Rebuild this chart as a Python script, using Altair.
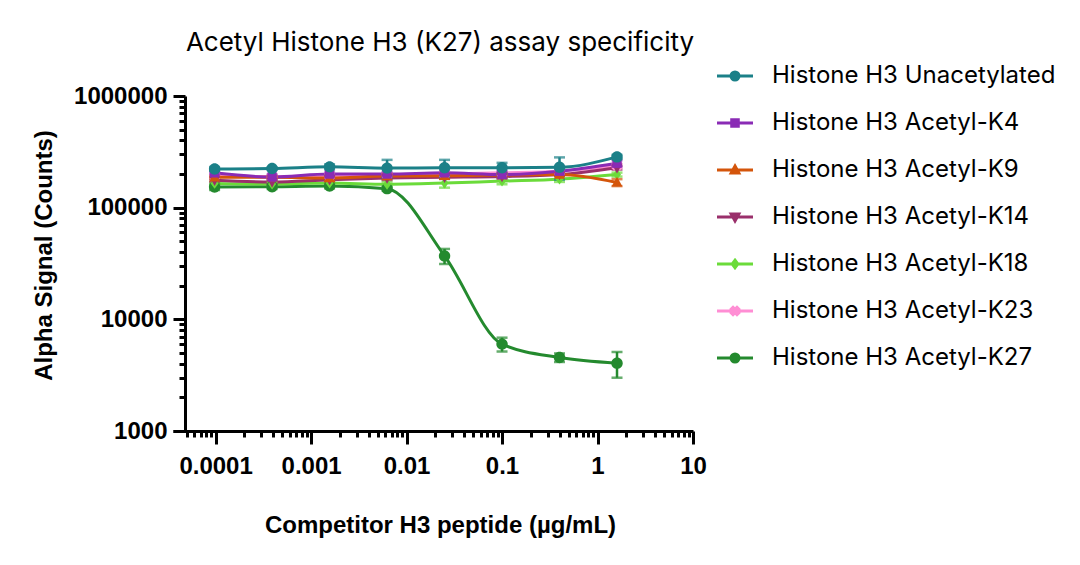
import altair as alt
import pandas as pd

# ---------------- data ----------------
conc = [9.765625e-05, 3.90625e-04, 1.5625e-03, 6.25e-03, 0.025, 0.1, 0.4, 1.6]

series_names = [
    "Histone H3 Unacetylated",
    "Histone H3 Acetyl-K4",
    "Histone H3 Acetyl-K9",
    "Histone H3 Acetyl-K14",
    "Histone H3 Acetyl-K18",
    "Histone H3 Acetyl-K23",
    "Histone H3 Acetyl-K27",
]

unacetylated = [222000, 224000, 232000, 226000, 228000, 228000, 230000, 285000]
unacetylated_sd = [9000, 6000, 12000, 42000, 40000, 24000, 52000, 12000]
k4 = [205000, 188000, 200000, 200000, 205000, 198000, 212000, 250000]
k4_sd = [5000, 10000, 6000, 9000, 6000, 14000, 12000, 16000]
k9 = [187000, 187000, 184000, 192000, 193000, 196000, 198000, 168000]
k9_sd = [4000, 5000, 10000, 9000, 11000, 6000, 5000, 12000]
k14 = [176000, 170000, 178000, 184000, 187000, 190000, 198000, 228000]
k14_sd = [5000, 8000, 6000, 7000, 6000, 7000, 6000, 9000]
k18 = [165000, 163000, 166000, 162000, 166000, 173000, 180000, 198000]
k18_sd = [5000, 7000, 6000, 9000, 15000, 11000, 10000, 8000]
k23 = [193000, 190000, 194000, 197000, 200000, 205000, 212000, 238000]
k23_sd = [5000, 5000, 5000, 6000, 6000, 6000, 7000, 9000]
k27 = [153000, 154000, 156000, 148000, 37000, 6000, 4550, 4050]
k27_sd = [9000, 7000, 7000, 6000, 5700, 850, 400, 1050]

series_values = [unacetylated, k4, k9, k14, k18, k23, k27]
series_sd = [unacetylated_sd, k4_sd, k9_sd, k14_sd, k18_sd, k23_sd, k27_sd]

x_ticks = [m * d for d in [1e-5, 1e-4, 1e-3, 1e-2, 1e-1, 1] for m in range(1, 10)
           if m * d >= 5e-5] + [10]
y_ticks = [m * d for d in [1e3, 1e4, 1e5] for m in range(1, 10)] + [1e6]

# ---------------- styles ----------------
colors = ["#1B8088", "#8A2BB5", "#D4550B", "#9A2F6B", "#6BDB3A", "#FF8ED4", "#248A2E"]
marker_paths = [
    "M1,0A1,1,0,1,1,-1,0A1,1,0,1,1,1,0Z",
    "M-0.82,-0.82L0.82,-0.82L0.82,0.82L-0.82,0.82Z",
    "M0,-1L0.95,0.72L-0.95,0.72Z",
    "M0,1L0.95,-0.72L-0.95,-0.72Z",
    "M0,-0.95L0.7,0L0,0.95L-0.7,0Z",
    "M0.495,-0.919L0.919,-0.495L0.424,0L0.919,0.495L0.495,0.919L0,0.424L-0.495,0.919"
    "L-0.919,0.495L-0.424,0L-0.919,-0.495L-0.495,-0.919L0,-0.424Z",
    "M1,0A1,1,0,1,1,-1,0A1,1,0,1,1,1,0Z",
]
legend_paths = ["M-4.5,0L4.5,0" + p for p in marker_paths]

rows = []
for name, vals, sds in reversed(list(zip(series_names, series_values, series_sd))):
    for c, v, s in zip(conc, vals, sds):
        rows.append({"series": name, "conc": c, "signal": v, "lo": v - s, "hi": v + s})
df = pd.DataFrame(rows)

AX_FONT = "Liberation Sans"
dec = "abs(log(datum.value)/LN10 - round(log(datum.value)/LN10)) < 0.001"

xscale = alt.Scale(type="log", domain=[3.58e-5, 10], nice=False)
yscale = alt.Scale(type="log", domain=[1000, 1000000], nice=False)

xaxis = alt.Axis(
    values=x_ticks, format=".4~f", labelExpr=f"{dec} ? datum.label : ''",
    tickSize={"condition": {"test": dec, "value": 13}, "value": 6},
    tickWidth=3, tickColor="black", domainWidth=3, domainColor="black",
    labelFont=AX_FONT, labelFontSize=24, labelFontWeight="bold", labelColor="black",
    labelPadding=10, labelOverlap=False, labelFlush=False, grid=False,
    title="Competitor H3 peptide (µg/mL)", titleFont=AX_FONT, titleFontSize=24,
    titleFontWeight="bold", titleColor="black", titleX=267, titleY=94,
    titleBaseline="middle", titleAlign="center",
)
yaxis = alt.Axis(
    values=y_ticks, format="d", labelExpr=f"{dec} ? datum.label : ''",
    tickSize={"condition": {"test": dec, "value": 12}, "value": 6},
    tickWidth=3, tickColor="black", domainWidth=3, domainColor="black", offset=-12,
    labelFont=AX_FONT, labelFontSize=24, labelFontWeight="bold", labelColor="black",
    labelPadding=6, labelOverlap=False, labelFlush=False, grid=False,
    title="Alpha Signal (Counts)", titleFont=AX_FONT, titleFontSize=24,
    titleFontWeight="bold", titleColor="black", titleX=-141, titleY=159,
    titleBaseline="middle", titleAlign="center",
)

leg = alt.Legend(
    title=None, orient="none", legendX=550, legendY=-32,
    labelFont="Inter", labelFontSize=24, labelColor="black", labelLimit=500,
    labelOffset=25, symbolSize=64, symbolStrokeWidth=3, symbolOpacity=1,
)

color = alt.Color("series:N", scale=alt.Scale(domain=series_names, range=colors), legend=None)
X = alt.X("conc:Q", scale=xscale, axis=xaxis)
YT = "Alpha Signal (Counts)"

base = alt.Chart(df)

lines = base.mark_line(strokeWidth=3, interpolate="monotone").encode(
    x=X, y=alt.Y("signal:Q", scale=yscale, axis=yaxis, title=YT), color=color)

err = base.mark_rule(strokeWidth=2.5).encode(
    x=X, y=alt.Y("lo:Q", scale=yscale, axis=yaxis, title=YT), y2="hi:Q", color=color)

caps = base.transform_fold(["lo", "hi"], as_=["end", "val"]).mark_tick(
    orient="horizontal", size=11, thickness=2.5).encode(
    x=X, y=alt.Y("val:Q", scale=yscale, axis=yaxis, title=YT), color=color)

points = base.mark_point(filled=True, size=130, opacity=1).encode(
    x=X, y=alt.Y("signal:Q", scale=yscale, axis=yaxis, title=YT), color=color,
    shape=alt.Shape("series:N", scale=alt.Scale(domain=series_names, range=marker_paths),
                    legend=None))

# legend-only layer (no visible marks): line + marker glyphs
legend_layer = base.transform_filter("datum.conc > 1000").mark_point(filled=True).encode(
    fill=alt.Fill("series:N", scale=alt.Scale(domain=series_names, range=colors), legend=leg),
    stroke=alt.Stroke("series:N", scale=alt.Scale(domain=series_names, range=colors), legend=leg),
    shape=alt.Shape("series:N", scale=alt.Scale(domain=series_names, range=legend_paths), legend=leg),
)

chart = alt.layer(lines, err, caps, points, legend_layer).resolve_scale(
    shape="independent", fill="independent", stroke="independent"
).properties(
    width=520, height=335,
    title=alt.Title("Acetyl Histone H3 (K27) assay specificity", font="Inter", fontSize=26,
                    fontWeight="normal", color="black", anchor="middle", frame="group",
                    baseline="alphabetic", offset=10, dx=7, dy=23),
    padding={"left": 165, "top": 88, "right": 379, "bottom": 126},
    autosize=alt.AutoSizeParams(type="none"),
).configure_view(stroke=None).configure_legend(rowPadding=23)

chart.save("out.html", embed_options={"renderer": "svg", "actions": False})
